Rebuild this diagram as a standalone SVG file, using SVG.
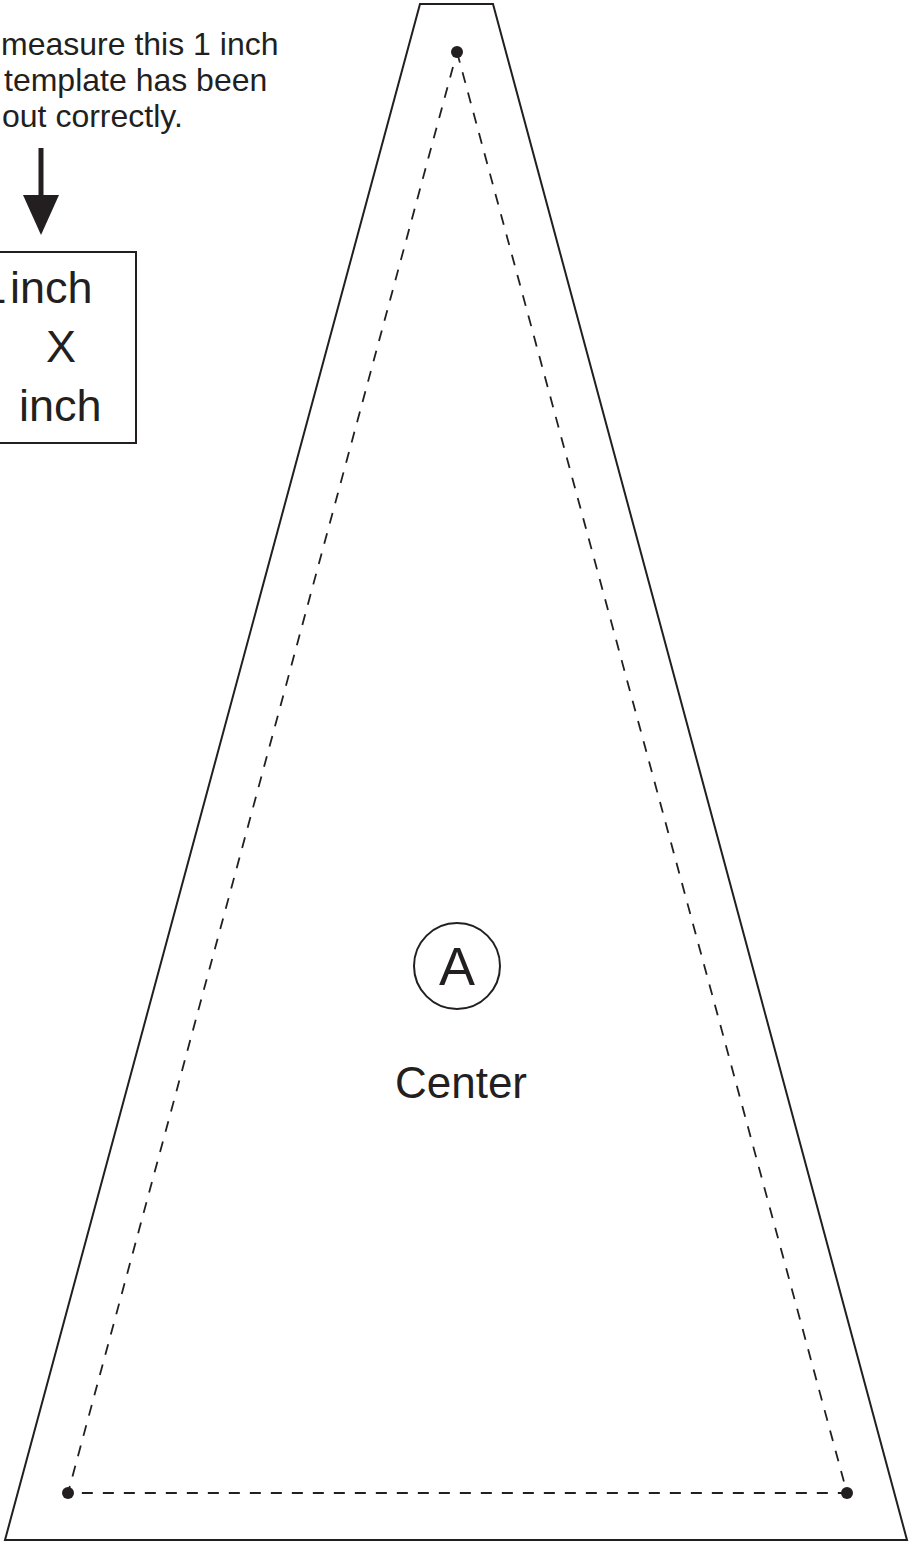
<svg xmlns="http://www.w3.org/2000/svg" width="909" height="1543" viewBox="0 0 909 1543">
<style>
.t{font-family:"Liberation Sans",Arial,sans-serif;fill:#231f20}
.ln{fill:none;stroke:#231f20;stroke-width:2}
.dash{fill:none;stroke:#231f20;stroke-width:1.8;stroke-dasharray:11 10}
.dot{fill:#231f20}
</style>
<rect width="909" height="1543" fill="#fff"/>
<g id="note">
<text class="t" font-size="32" x="1" y="55">measure this 1 inch</text>
<text class="t" font-size="32" x="4" y="91">template has been</text>
<text class="t" font-size="32" x="2" y="127">out correctly.</text>
</g>
<g id="connectors">
<line x1="41" y1="148" x2="41" y2="200" stroke="#231f20" stroke-width="5"/>
<polygon points="23,195 59,195 41,235" fill="#231f20"/>
</g>
<g id="square">
<rect class="ln" x="-10" y="252" width="146" height="191"/>
<text class="t" font-size="45"><tspan x="-18.5" y="303">1</tspan><tspan x="10" y="303">inch</tspan></text>
<text class="t" font-size="45" x="61" y="362" text-anchor="middle">X</text>
<text class="t" font-size="45" x="19" y="421">inch</text>
</g>
<g id="template">
<polygon class="ln" points="420,4 493,4 907,1540 5,1540"/>
<polygon class="dash" points="457,52 847,1493 68,1493"/>
<circle class="dot" cx="457" cy="52" r="6"/>
<circle class="dot" cx="68" cy="1493" r="6"/>
<circle class="dot" cx="847" cy="1493" r="6"/>
</g>
<g id="label">
<circle class="ln" cx="457" cy="966" r="43"/>
<text class="t" font-size="54" x="457" y="985" text-anchor="middle">A</text>
<text class="t" font-size="44" x="461" y="1098" text-anchor="middle">Center</text>
</g>
</svg>
